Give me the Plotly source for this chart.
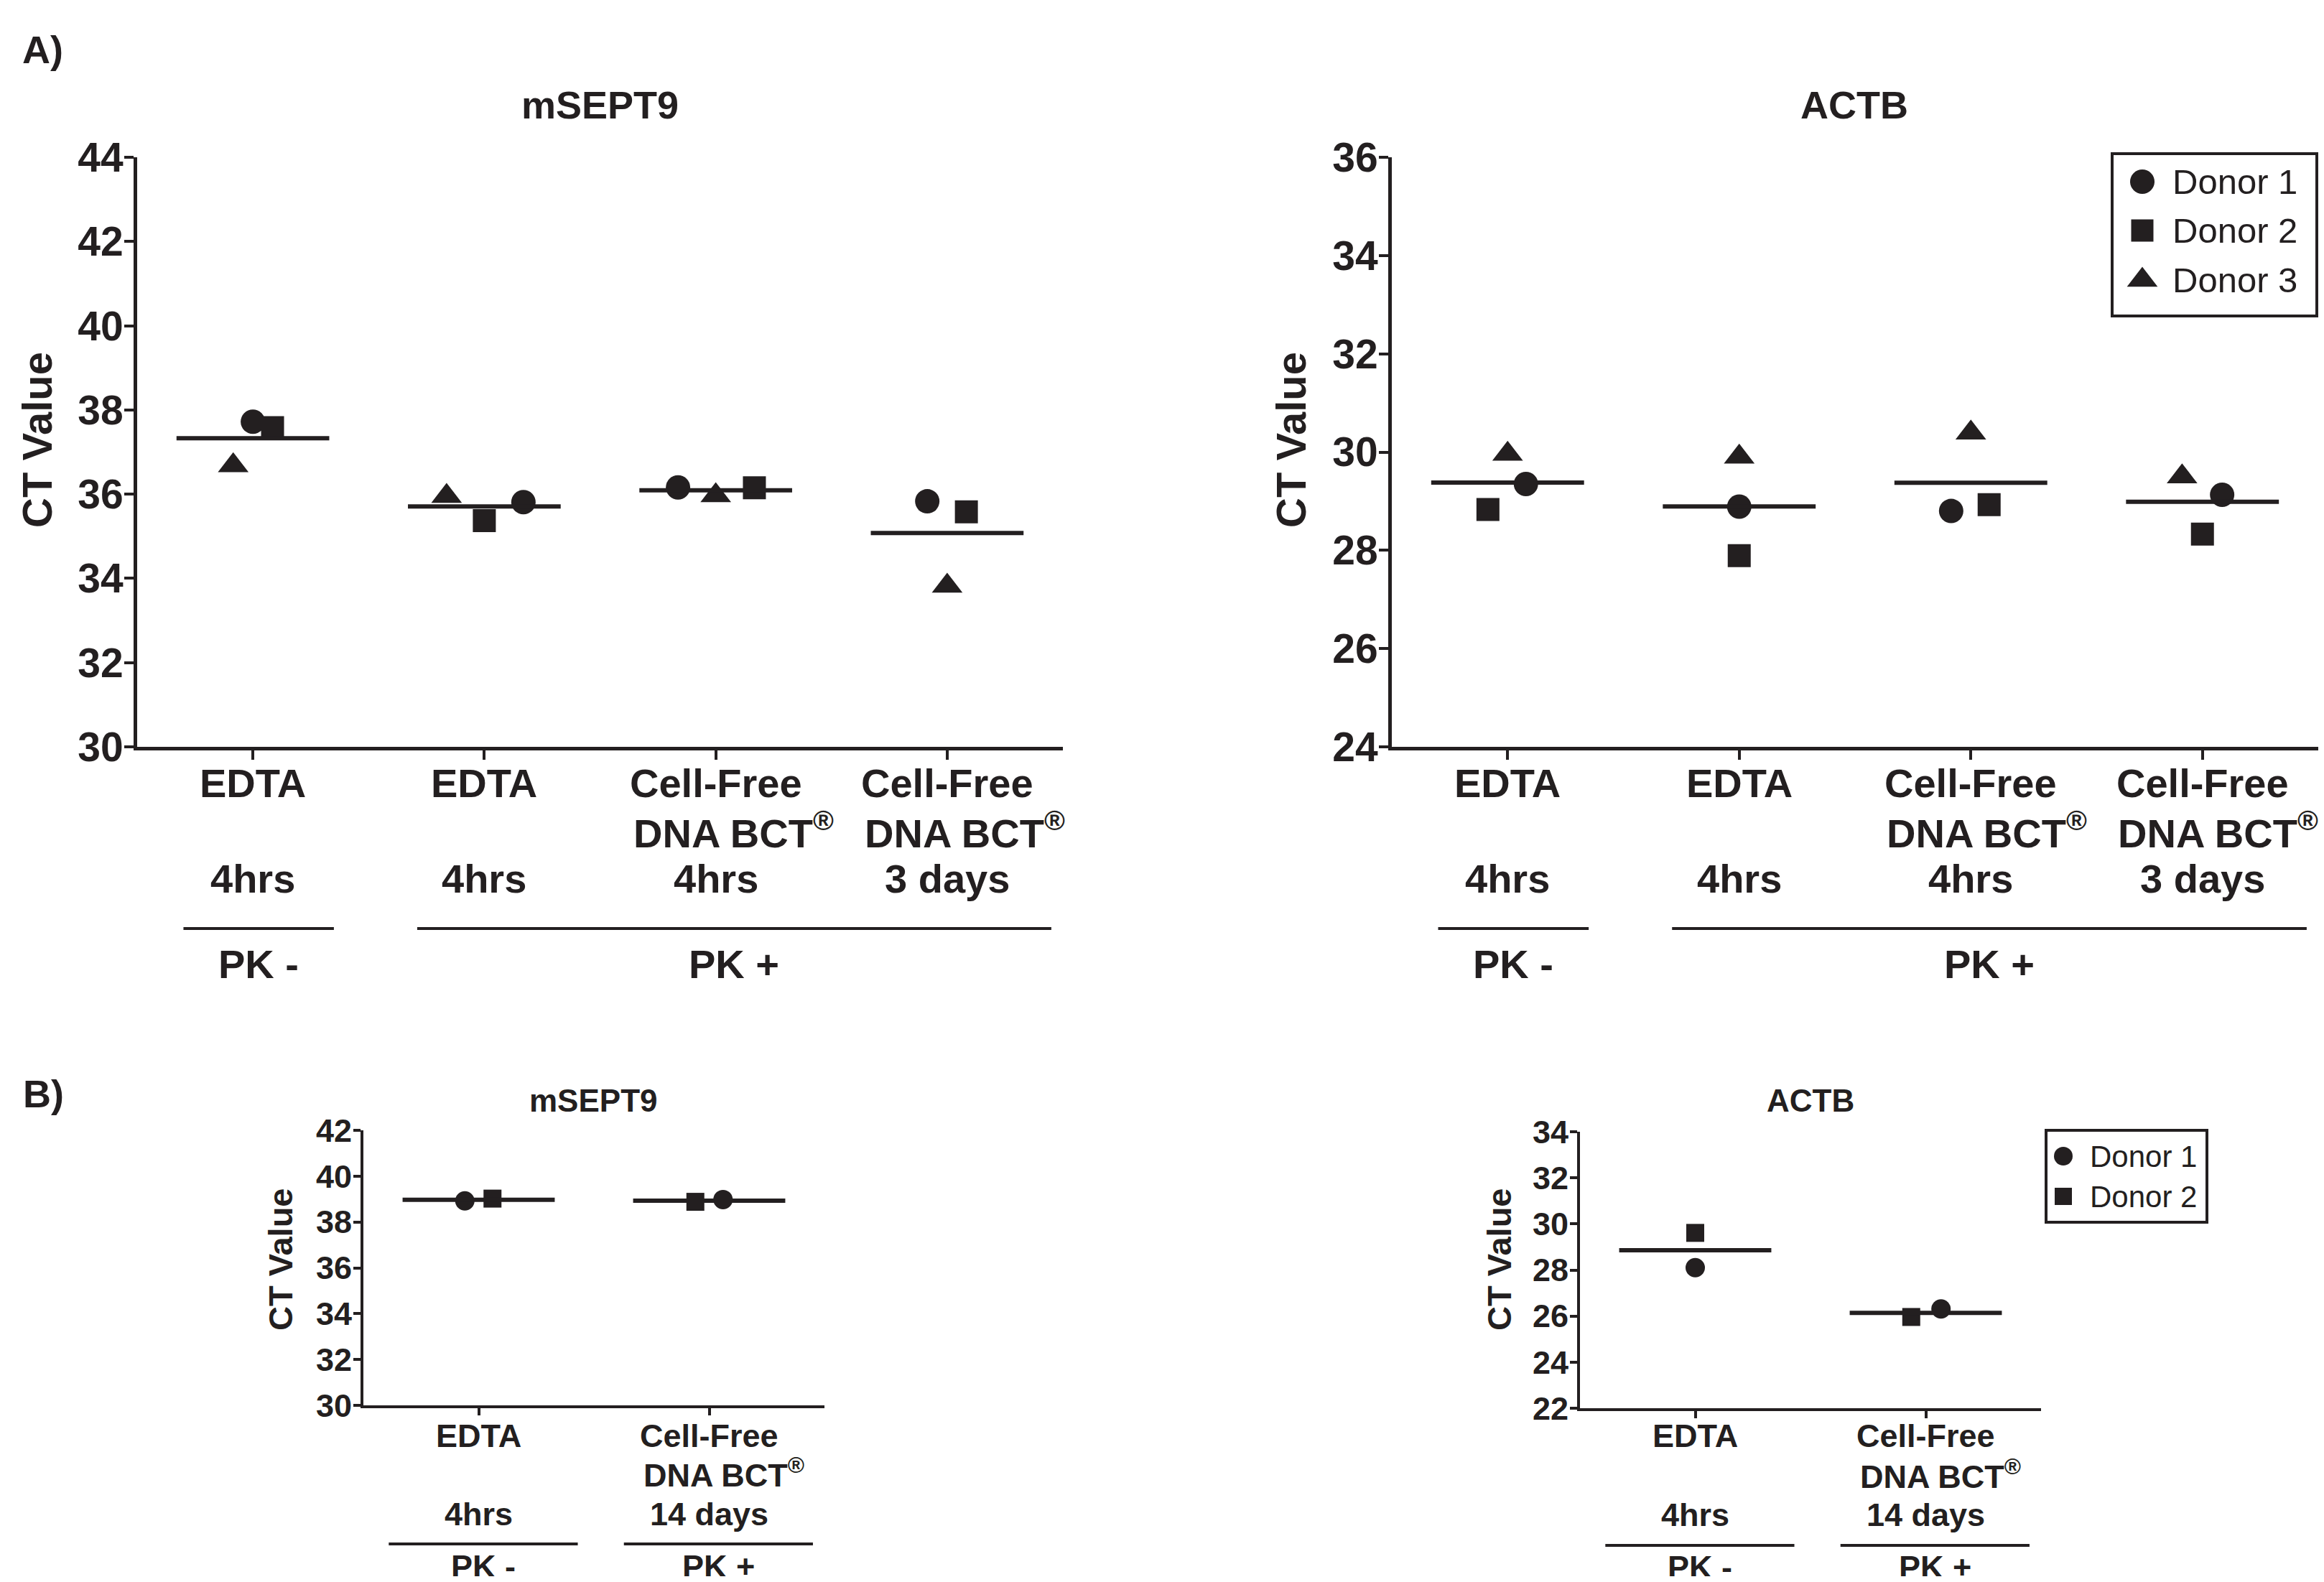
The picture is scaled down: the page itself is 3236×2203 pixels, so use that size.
import numpy as np
import plotly.graph_objects as go

# ------------------------- data -------------------------
DONORS = ["Donor 1", "Donor 2", "Donor 3"]

A_CATEGORIES = [["EDTA", "", "4hrs"],
                ["EDTA", "", "4hrs"],
                ["Cell-Free", "DNA BCT<sup>®</sup>", "4hrs"],
                ["Cell-Free", "DNA BCT<sup>®</sup>", "3 days"]]
B_CATEGORIES = [["EDTA", "", "4hrs"],
                ["Cell-Free", "DNA BCT<sup>®</sup>", "14 days"]]
PK_LABELS = ["PK -", "PK +"]

# Panel A, mSEPT9 (CT values per group)
A_SEPT9_D1 = [37.72, 35.81, 36.16, 35.83]
A_SEPT9_D2 = [37.58, 35.37, 36.15, 35.58]
A_SEPT9_D3 = [36.68, 35.95, 35.97, 33.82]
# Panel A, ACTB
A_ACTB_D1 = [29.35, 28.89, 28.80, 29.13]
A_ACTB_D2 = [28.83, 27.89, 28.93, 28.33]
A_ACTB_D3 = [29.96, 29.90, 30.39, 29.50]
# Panel B, mSEPT9
B_SEPT9_D1 = [38.92, 38.98]
B_SEPT9_D2 = [39.02, 38.88]
# Panel B, ACTB
B_ACTB_D1 = [28.10, 26.31]
B_ACTB_D2 = [29.61, 25.96]

# ------------------------- style -------------------------
INK = "#231f20"
FONT = "Liberation Sans, Arial, sans-serif"
SYMBOLS = ["circle", "square", "triangle-up"]

# horizontal scatter offsets of each donor inside its group (category units)
A_SEPT9_JIT = [[0.0, 0.169, -0.163, -0.086],
               [0.085, 0.0, 0.167, 0.083],
               [-0.085, -0.163, 0.0, 0.0]]
A_ACTB_JIT = [[0.079, 0.0, -0.085, 0.085],
              [-0.085, 0.0, 0.079, 0.0],
              [0.0, 0.0, 0.0, -0.088]]
B_SEPT9_JIT = [[-0.06, 0.06], [0.06, -0.06]]
B_ACTB_JIT = [[0.0, 0.066], [0.0, -0.063]]

A_PK_SPANS = [(-0.30, 0.35), (0.71, 3.45)]
B_PK_SPANS = [(-0.39, 0.43), (0.63, 1.45)]

# page body has an 8px margin: the figure is sized to fit inside the window
W, H, OFF = 3220, 2187, 8


def fx(px):
    return min(1.0, max(0.0, (px - OFF) / W))


def fy(py):
    return min(1.0, max(0.0, 1 - (py - OFF) / H))


panels = [
    dict(n="", box=(191, 219, 1480, 1040), yr=(30, 44), title="mSEPT9", title_xy=(835, 146),
         ylab_xy=(51, 613), cats=A_CATEGORIES, series=[A_SEPT9_D1, A_SEPT9_D2, A_SEPT9_D3],
         jit=A_SEPT9_JIT, rows=(1090, 1156, 1223), pk_y=1293, pk_text_y=1342, spans=A_PK_SPANS,
         fs=dict(tick=57, title=54, ylab=58, cat=56, pk=56), msize=[34, 32, 37], ticklen=13,
         bct_shift=25, lw=5, stand=-10),
    dict(n="2", box=(1938, 219, 3230, 1040), yr=(24, 36), title="ACTB", title_xy=(2582, 146),
         ylab_xy=(1797, 613), cats=A_CATEGORIES, series=[A_ACTB_D1, A_ACTB_D2, A_ACTB_D3],
         jit=A_ACTB_JIT, rows=(1090, 1156, 1223), pk_y=1293, pk_text_y=1342, spans=A_PK_SPANS,
         fs=dict(tick=57, title=54, ylab=58, cat=56, pk=56), msize=[34, 32, 37], ticklen=13,
         bct_shift=22, lw=5, stand=-10),
    dict(n="3", box=(506, 1574, 1148, 1957), yr=(30, 42), title="mSEPT9", title_xy=(826, 1532),
         ylab_xy=(390, 1754), cats=B_CATEGORIES, series=[B_SEPT9_D1, B_SEPT9_D2],
         jit=B_SEPT9_JIT, rows=(1999, 2051, 2108), pk_y=2150, pk_text_y=2181, spans=B_PK_SPANS,
         fs=dict(tick=45, title=44, ylab=47, cat=45, pk=45), msize=[27, 25], ticklen=10,
         bct_shift=20, lw=4, stand=-7),
    dict(n="4", box=(2200, 1576, 2842, 1961), yr=(22, 34), title="ACTB", title_xy=(2521, 1532),
         ylab_xy=(2087, 1754), cats=B_CATEGORIES, series=[B_ACTB_D1, B_ACTB_D2],
         jit=B_ACTB_JIT, rows=(1999, 2053, 2109), pk_y=2152, pk_text_y=2182, spans=B_PK_SPANS,
         fs=dict(tick=45, title=44, ylab=47, cat=45, pk=45), msize=[27, 25], ticklen=10,
         bct_shift=20, lw=4, stand=-7),
]

legends = [
    dict(n="5", box=(2941, 214, 3226, 440), ys=[253, 321, 390], mx=2983, tx=3023, fs=49,
         msize=[34, 31, 37], k=3),
    dict(n="6", box=(2849, 1574, 3073, 1702), ys=[1610, 1666], mx=2873, tx=2908, fs=42,
         msize=[26, 24], k=2),
]

fig = go.Figure()
annotations = []
shapes = []
layout_axes = {}

for p in panels:
    xa, ya = "x" + p["n"], "y" + p["n"]
    l, t, r, b = p["box"]
    ncat = len(p["cats"])
    idx = np.arange(ncat)
    # donor points
    for k, vals in enumerate(p["series"]):
        fig.add_trace(go.Scatter(
            x=idx + np.array(p["jit"][k]), y=vals, mode="markers", name=DONORS[k],
            marker=dict(symbol=SYMBOLS[k], size=p["msize"][k], color=INK, line=dict(width=0)),
            xaxis=xa, yaxis=ya, showlegend=False, cliponaxis=False, hoverinfo="x+y"))
    # mean lines
    means = np.mean(np.array(p["series"]), axis=0)
    mx, my = [], []
    for g, m in enumerate(means):
        mx += [g - 0.33, g + 0.33, None]
        my += [m, m, None]
    fig.add_trace(go.Scatter(x=mx, y=my, mode="lines", line=dict(color=INK, width=6),
                             xaxis=xa, yaxis=ya, showlegend=False, hoverinfo="skip"))
    lo, hi = p["yr"]
    layout_axes["xaxis" + p["n"]] = dict(
        domain=[fx(l), fx(r)], range=[-0.5, ncat - 0.5], anchor=ya, showline=True,
        linewidth=p["lw"], linecolor=INK, ticks="outside", tickvals=list(idx),
        ticklen=p["ticklen"], tickwidth=4, tickcolor=INK, showticklabels=False,
        showgrid=False, zeroline=False, fixedrange=True, automargin=False)
    layout_axes["yaxis" + p["n"]] = dict(
        domain=[fy(b), fy(t)], range=[lo, hi], anchor=xa, showline=True,
        linewidth=p["lw"], linecolor=INK, ticks="outside",
        tickvals=list(range(lo, hi + 1, 2)), ticklen=p["ticklen"], tickwidth=4, tickcolor=INK,
        tickfont=dict(family=FONT, size=p["fs"]["tick"], color=INK, weight="bold"),
        ticklabelstandoff=p["stand"],
        showgrid=False, zeroline=False, fixedrange=True, automargin=False)
    # title
    annotations.append(dict(text="<b>%s</b>" % p["title"], xref="paper", yref="paper",
                            x=fx(p["title_xy"][0]), y=fy(p["title_xy"][1]),
                            xanchor="center", yanchor="middle", showarrow=False,
                            font=dict(family=FONT, size=p["fs"]["title"], color=INK)))
    # y-axis title
    annotations.append(dict(text="<b>CT Value</b>", xref="paper", yref="paper",
                            x=fx(p["ylab_xy"][0]), y=fy(p["ylab_xy"][1]), textangle=-90,
                            xanchor="center", yanchor="middle", showarrow=False,
                            font=dict(family=FONT, size=p["fs"]["ylab"], color=INK)))
    # category labels
    for g, lines in enumerate(p["cats"]):
        for row, txt in enumerate(lines):
            if not txt:
                continue
            annotations.append(dict(
                text="<b>%s</b>" % txt, xref=xa, yref="paper", x=g, y=fy(p["rows"][row]),
                xanchor="center", yanchor="middle", showarrow=False,
                xshift=p["bct_shift"] if "BCT" in txt else 0,
                font=dict(family=FONT, size=p["fs"]["cat"], color=INK)))
    # PK group lines and labels
    for (x0, x1), lab in zip(p["spans"], PK_LABELS):
        shapes.append(dict(type="line", xref=xa, yref="paper", x0=x0, x1=x1,
                           y0=fy(p["pk_y"]), y1=fy(p["pk_y"]), line=dict(color=INK, width=4)))
        annotations.append(dict(text="<b>%s</b>" % lab, xref=xa, yref="paper",
                                x=(x0 + x1) / 2, y=fy(p["pk_text_y"]),
                                xanchor="center", yanchor="middle", showarrow=False,
                                font=dict(family=FONT, size=p["fs"]["pk"], color=INK)))

# manual legends
for lg in legends:
    xa, ya = "x" + lg["n"], "y" + lg["n"]
    l, t, r, b = lg["box"]
    layout_axes["xaxis" + lg["n"]] = dict(domain=[fx(l), fx(r)], range=[0, 1], visible=False,
                                          anchor=ya, fixedrange=True, automargin=False)
    layout_axes["yaxis" + lg["n"]] = dict(domain=[fy(b), fy(t)], range=[0, 1], visible=False,
                                          anchor=xa, fixedrange=True, automargin=False)
    for k in range(lg["k"]):
        yy = (b - lg["ys"][k]) / (b - t)
        fig.add_trace(go.Scatter(x=[(lg["mx"] - l) / (r - l)], y=[yy], mode="markers",
                                 marker=dict(symbol=SYMBOLS[k], size=lg["msize"][k], color=INK),
                                 xaxis=xa, yaxis=ya, showlegend=False, hoverinfo="skip",
                                 cliponaxis=False))
        annotations.append(dict(text=DONORS[k], xref=xa, yref=ya, x=(lg["tx"] - l) / (r - l),
                                y=yy, xanchor="left", yanchor="middle", showarrow=False,
                                font=dict(family=FONT, size=lg["fs"], color=INK)))
    shapes.append(dict(type="rect", xref="paper", yref="paper", x0=fx(l), x1=fx(r),
                       y0=fy(b), y1=fy(t), line=dict(color=INK, width=4)))

# panel letters
for lab, (px, py) in [("A)", (59, 69)), ("B)", (60, 1523))]:
    annotations.append(dict(text="<b>%s</b>" % lab, xref="paper", yref="paper",
                            x=fx(px), y=fy(py), xanchor="center", yanchor="middle",
                            showarrow=False, font=dict(family=FONT, size=54, color=INK)))

fig.update_layout(width=W, height=H, autosize=False,
                  margin=dict(l=0, r=0, t=0, b=0, pad=0, autoexpand=False),
                  paper_bgcolor="white", plot_bgcolor="white",
                  annotations=annotations, shapes=shapes, showlegend=False,
                  font=dict(family=FONT, color=INK), **layout_axes)

fig.write_html("out.html")
